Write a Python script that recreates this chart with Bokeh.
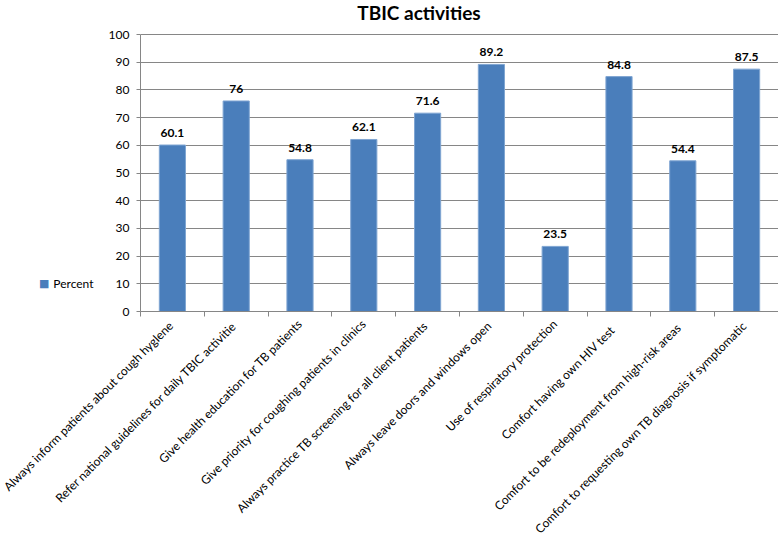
import math
from bokeh.plotting import figure
from bokeh.models import Range1d, FixedTicker, LinearAxis, ColumnDataSource, Label
from bokeh.core.properties import value
from bokeh.embed import file_html
from bokeh.resources import INLINE

categories = [
    "Always  inform patients about cough hyglene",
    "Refer national guidelines for daily  TBIC activitie",
    "Give health education for TB patients",
    "Give priority for coughing patients in clinics",
    "Always  practice TB screening for all client patients",
    "Always  leave doors and windows open",
    "Use of respiratory protection",
    "Comfort  having   own HIV test",
    "Comfort  to be  redeployment from high-risk areas",
    "Comfort to requesting own TB diagnosis  if symptomatic",
]
percent = [60.1, 76, 54.8, 62.1, 71.6, 89.2, 23.5, 84.8, 54.4, 87.5]
percent_labels = ["60.1", "76", "54.8", "62.1", "71.6", "89.2", "23.5", "84.8", "54.4", "87.5"]
y_ticks = [0, 10, 20, 30, 40, 50, 60, 70, 80, 90, 100]
series_name = "Percent"
chart_title = "TBIC activities"

n = len(categories)
centers = [i + 0.5 for i in range(n)]
src = ColumnDataSource(dict(x=centers, top=percent, lab=percent_labels))

FONT = "Lato"
GRID = "#868686"
BAR = "#4A7EBB"

Y_MAX = 100
FRAME_H = 311
PLOT_H = 277  # pixels from 0 to 100
p = figure(frame_width=638, frame_height=FRAME_H, min_border_left=140, min_border_right=0,
           min_border_top=0, min_border_bottom=229,
           x_range=Range1d(0, n), y_range=Range1d(0, Y_MAX * FRAME_H / PLOT_H),
           output_backend="svg", toolbar_location=None, tools="")
p.outline_line_color = None
p.background_fill_color = "white"
p.border_fill_color = "white"

bars = p.vbar(x="x", top="top", width=0.41, bottom=0, source=src,
              fill_color=BAR, line_color="#7FA5D2", line_width=1)

p.text(x="x", y="top", text="lab", source=src, text_align="center", text_baseline="bottom",
       y_offset=-8, text_font=value(FONT), text_font_style="bold", text_font_size="12px",
       text_color="#000000")

# title
p.add_layout(Label(x=4.365, y=Y_MAX, y_offset=22, text=chart_title, text_align="center",
                   text_baseline="alphabetic", text_font=FONT, text_font_style="bold",
                   text_font_size="19px", text_color="#000000"))

# axes
p.xgrid.grid_line_color = None
p.ygrid.grid_line_color = GRID
p.ygrid.ticker = FixedTicker(ticks=y_ticks)

p.yaxis.ticker = FixedTicker(ticks=y_ticks)
p.yaxis.bounds = (0, Y_MAX)
p.yaxis.axis_line_color = GRID
p.yaxis.major_tick_line_color = GRID
p.yaxis.major_tick_out = 4
p.yaxis.major_tick_in = 0
p.yaxis.minor_tick_line_color = None
p.yaxis.major_label_standoff = 7
p.yaxis.major_label_text_font = FONT
p.yaxis.major_label_text_font_size = "12px"
p.yaxis.major_label_text_color = "#000000"

p.xaxis.ticker = FixedTicker(ticks=centers, minor_ticks=list(range(n + 1)))
p.xaxis.major_label_overrides = {c: lab for c, lab in zip(centers, categories)}
p.xaxis.axis_line_color = GRID
p.xaxis.major_tick_line_color = None
p.xaxis.major_tick_out = 0
p.xaxis.major_tick_in = 0
p.xaxis.minor_tick_line_color = GRID
p.xaxis.minor_tick_out = 5
p.xaxis.minor_tick_in = 0
p.xaxis.major_label_orientation = math.pi / 4
p.xaxis.major_label_standoff = 5
p.xaxis.major_label_text_font = FONT
p.xaxis.major_label_text_font_size = "12px"
p.xaxis.major_label_text_color = "#000000"

# legend (series name + swatch) drawn as two label-only axes in the left border
LEG_Y = 10.1
leg_text = LinearAxis(ticker=FixedTicker(ticks=[LEG_Y]), major_label_overrides={LEG_Y: series_name},
                      axis_line_color=None, major_tick_line_color=None, minor_tick_line_color=None,
                      major_tick_out=0, major_tick_in=0, major_label_standoff=12,
                      major_label_text_font=FONT, major_label_text_font_size="12px",
                      major_label_text_color="#000000")
p.add_layout(leg_text, "left")
leg_swatch = LinearAxis(ticker=FixedTicker(ticks=[LEG_Y]), major_label_overrides={LEG_Y: "■"},
                        axis_line_color=None, major_tick_line_color=None, minor_tick_line_color=None,
                        major_tick_out=0, major_tick_in=0, major_label_standoff=1,
                        major_label_text_font="DejaVu Sans", major_label_text_font_size="11px",
                        major_label_text_color=BAR)
p.add_layout(leg_swatch, "left")

open("out.html", "w").write(file_html(p, INLINE))
